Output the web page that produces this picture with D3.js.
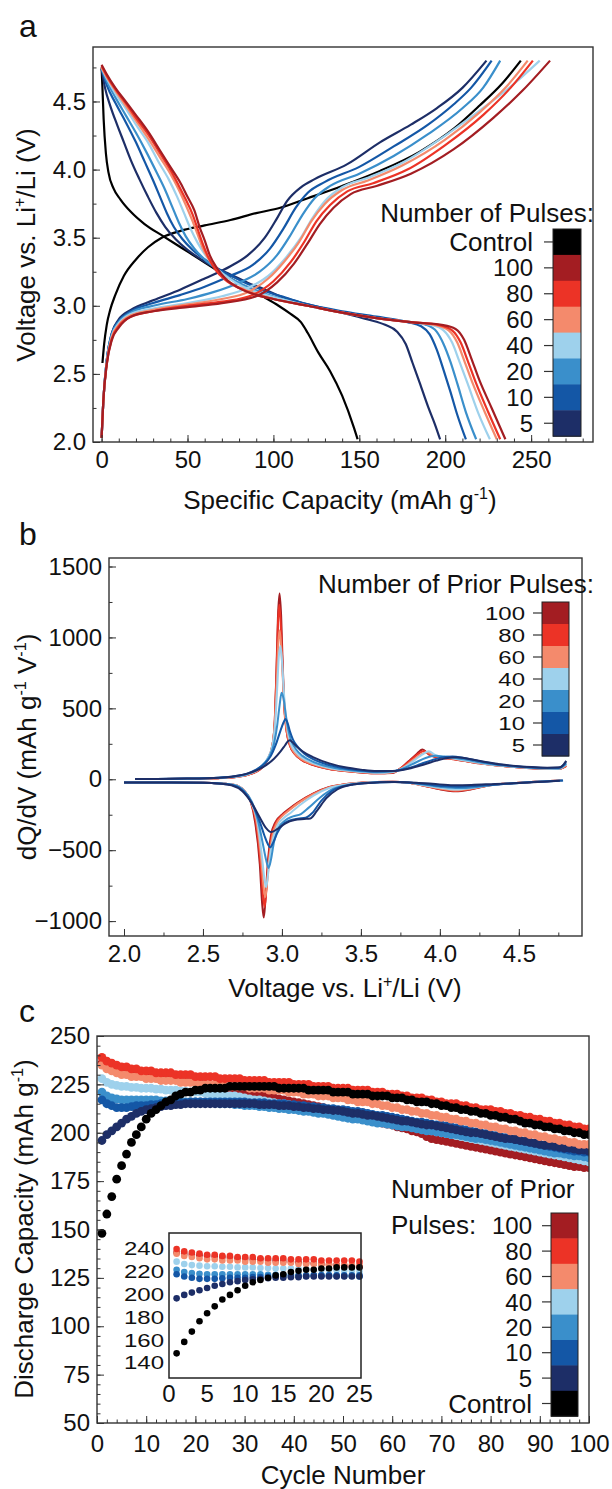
<!DOCTYPE html>
<html><head><meta charset="utf-8">
<script src="https://cdn.jsdelivr.net/npm/d3@7"></script>
<style>
body{margin:0;background:#fff}
svg{display:block}
text{font-family:"Liberation Sans",Arial,sans-serif;fill:#111}
</style>
</head><body>
<svg id="fig" width="612" height="1489"></svg>
<script>
// ---------- series identity ----------
const seriesNames = ["Control","100","80","60","40","20","10","5"];
const seriesColors = ["#000000","#a31d22","#ec3326","#f48a6c","#9ed1ec","#3a8fcb","#1457a6","#1d2e67"];
const colorOf = {}; seriesNames.forEach((n,i)=>colorOf[n]=seriesColors[i]);

// ---------- panel a : voltage profiles [capacity mAh/g, voltage V] ----------
const aXTicks = [0,50,100,150,200,250];
const aYTicks = [2.0,2.5,3.0,3.5,4.0,4.5];
const aChargeControl = [[0.5,2.58],[1.5,2.72],[3,2.86],[5,2.97],[8,3.08],[13,3.22],[20,3.34],[27,3.43],[35,3.5],[46,3.55],[60,3.59],[75,3.63],[90,3.68],[104,3.72],[120,3.79],[140,3.88],[162,3.99],[185,4.13],[205,4.3],[220,4.47],[233,4.63],[244,4.8]];
const aCharge100 = [[0,2.03],[1,2.3],[3,2.57],[6,2.75],[10,2.84],[17,2.92],[30,2.96],[50,2.99],[70,3.02],[90,3.07],[102,3.17],[112,3.31],[120,3.46],[127,3.6],[135,3.72],[145,3.82],[160,3.88],[180,3.97],[205,4.15],[228,4.38],[245,4.58],[261,4.8]];
const aCharge80 = [[0,2.03],[1,2.3],[3,2.57],[6,2.76],[10,2.85],[17,2.92],[30,2.96],[50,3.0],[70,3.03],[88,3.08],[100,3.18],[110,3.32],[118,3.47],[125,3.62],[133,3.74],[143,3.84],[158,3.9],[178,4.0],[200,4.18],[222,4.4],[238,4.6],[251,4.8]];
const aCharge60 = [[0,2.03],[1,2.3],[3,2.58],[6,2.77],[10,2.86],[17,2.93],[30,2.97],[50,3.01],[70,3.05],[85,3.1],[97,3.2],[106,3.32],[115,3.47],[122,3.62],[130,3.75],[140,3.85],[155,3.92],[175,4.03],[200,4.22],[220,4.42],[235,4.6],[248,4.8]];
const aCharge40 = [[0,2.03],[1,2.3],[3,2.58],[6,2.78],[10,2.87],[17,2.94],[30,2.98],[50,3.02],[70,3.07],[85,3.13],[97,3.22],[107,3.35],[116,3.5],[123,3.65],[130,3.77],[140,3.87],[155,3.94],[175,4.05],[200,4.25],[225,4.48],[240,4.63],[255,4.8]];
const aCharge20 = [[0,2.03],[1,2.3],[3,2.6],[6,2.79],[10,2.88],[17,2.95],[30,3.0],[50,3.05],[65,3.1],[80,3.17],[92,3.25],[102,3.37],[110,3.52],[117,3.67],[124,3.79],[133,3.88],[150,3.97],[170,4.1],[190,4.26],[210,4.45],[222,4.6],[232,4.8]];
const aCharge10 = [[0,2.03],[1,2.3],[3,2.6],[6,2.8],[10,2.89],[17,2.96],[30,3.02],[46,3.08],[60,3.14],[75,3.22],[88,3.3],[98,3.42],[106,3.57],[113,3.72],[120,3.83],[130,3.91],[150,4.02],[170,4.17],[190,4.33],[205,4.48],[215,4.6],[227,4.8]];
const aCharge5 = [[0,2.03],[1,2.3],[3,2.6],[6,2.8],[10,2.9],[17,2.97],[30,3.04],[46,3.12],[60,3.2],[75,3.29],[85,3.37],[95,3.5],[102,3.64],[108,3.77],[116,3.87],[124,3.93],[143,4.04],[162,4.2],[180,4.33],[195,4.45],[210,4.6],[224,4.8]];
const aDischargeControl = [[0,4.75],[0.5,4.6],[1.2,4.37],[2.5,4.12],[4,3.98],[7,3.86],[11,3.78],[17,3.69],[25,3.6],[36,3.51],[46,3.43],[56,3.35],[66,3.27],[75,3.2],[85,3.13],[95,3.06],[103,3.0],[110,2.94],[116,2.88],[120,2.8],[126,2.66],[133,2.52],[140,2.34],[147,2.1],[149,2.02]];
const aDischarge100 = [[0,4.77],[3,4.7],[8,4.6],[14,4.5],[20,4.4],[27,4.28],[34,4.14],[40,4.02],[46,3.9],[50,3.8],[54,3.7],[57,3.58],[60,3.48],[63,3.37],[67,3.28],[72,3.2],[80,3.13],[90,3.08],[100,3.05],[120,3.0],[140,2.95],[160,2.91],[180,2.88],[198,2.86],[206,2.83],[211,2.75],[215,2.62],[220,2.45],[227,2.25],[235,2.02]];
const aDischarge80 = [[0,4.76],[3,4.69],[8,4.59],[14,4.49],[20,4.38],[27,4.26],[34,4.12],[40,4.0],[45,3.88],[49,3.78],[53,3.67],[56,3.56],[59,3.45],[62,3.36],[66,3.27],[72,3.19],[80,3.13],[90,3.08],[100,3.05],[120,3.0],[140,2.95],[160,2.91],[180,2.88],[196,2.86],[204,2.82],[209,2.73],[213,2.6],[218,2.43],[225,2.22],[232,2.02]];
const aDischarge60 = [[0,4.75],[3,4.68],[8,4.58],[14,4.47],[20,4.36],[27,4.23],[34,4.09],[40,3.97],[45,3.85],[49,3.74],[53,3.62],[56,3.52],[59,3.42],[63,3.33],[68,3.25],[75,3.17],[83,3.12],[92,3.08],[100,3.05],[120,3.0],[140,2.95],[160,2.91],[180,2.88],[194,2.86],[202,2.82],[207,2.73],[211,2.6],[216,2.43],[223,2.22],[230,2.02]];
const aDischarge40 = [[0,4.75],[3,4.67],[8,4.56],[14,4.45],[20,4.33],[27,4.2],[33,4.06],[39,3.93],[44,3.8],[48,3.68],[52,3.56],[56,3.46],[60,3.38],[65,3.3],[71,3.23],[78,3.17],[86,3.12],[95,3.08],[104,3.05],[120,3.0],[140,2.95],[160,2.91],[180,2.88],[192,2.86],[199,2.82],[204,2.73],[208,2.6],[213,2.43],[219,2.22],[226,2.02]];
const aDischarge20 = [[0,4.74],[3,4.65],[8,4.53],[14,4.4],[20,4.27],[26,4.13],[32,3.98],[37,3.85],[41,3.73],[45,3.61],[49,3.51],[54,3.42],[60,3.34],[67,3.27],[75,3.2],[85,3.14],[95,3.09],[105,3.05],[120,3.0],[140,2.95],[160,2.91],[180,2.88],[189,2.86],[195,2.81],[199,2.72],[203,2.59],[207,2.43],[212,2.22],[218,2.02]];
const aDischarge10 = [[0,4.74],[3,4.62],[8,4.49],[14,4.35],[20,4.2],[25,4.06],[30,3.92],[34,3.8],[38,3.68],[42,3.58],[47,3.49],[53,3.41],[60,3.34],[68,3.27],[77,3.21],[87,3.15],[97,3.1],[107,3.06],[120,3.01],[140,2.96],[160,2.92],[178,2.88],[186,2.85],[191,2.79],[195,2.68],[199,2.53],[203,2.37],[207,2.2],[212,2.02]];
const aDischarge5 = [[0,4.74],[2,4.6],[5,4.47],[9,4.33],[13,4.2],[17,4.07],[22,3.93],[27,3.8],[32,3.68],[37,3.58],[43,3.49],[50,3.41],[58,3.34],[66,3.28],[75,3.23],[85,3.17],[95,3.12],[104,3.07],[120,3.01],[140,2.95],[155,2.9],[165,2.86],[172,2.81],[177,2.72],[181,2.58],[185,2.44],[190,2.26],[194,2.13],[197,2.02]];

// ---------- panel b : dQ/dV [voltage V, dQ/dV] ----------
const bXTicks = [2.0,2.5,3.0,3.5,4.0,4.5];
const bYTicks = [-1000,-500,0,500,1000,1500];
const bNames = ["100","80","60","40","20","10","5"];
const bCharge100 = [[2.07,2],[2.4,4],[2.6,8],[2.7,15],[2.78,30],[2.84,55],[2.88,90],[2.91,140],[2.94,240],[2.955,420],[2.965,750],[2.975,1150],[2.985,1310],[2.995,1150],[3.005,800],[3.015,520],[3.03,340],[3.05,240],[3.08,180],[3.12,140],[3.2,100],[3.3,72],[3.4,58],[3.5,48],[3.6,42],[3.7,45],[3.75,75],[3.8,125],[3.85,175],[3.89,210],[3.93,175],[3.98,155],[4.05,148],[4.15,130],[4.25,112],[4.35,98],[4.45,88],[4.55,80],[4.65,74],[4.75,72],[4.8,95]];
const bCharge80 = [[2.07,2],[2.4,4],[2.6,8],[2.7,15],[2.78,30],[2.84,55],[2.88,90],[2.91,140],[2.94,240],[2.955,420],[2.965,720],[2.975,1100],[2.983,1230],[2.993,1080],[3.005,760],[3.015,500],[3.03,335],[3.05,240],[3.08,180],[3.12,140],[3.2,100],[3.3,72],[3.4,58],[3.5,48],[3.6,42],[3.7,48],[3.76,85],[3.82,140],[3.87,185],[3.9,200],[3.94,170],[3.99,152],[4.05,146],[4.15,130],[4.25,112],[4.35,98],[4.45,88],[4.55,80],[4.65,74],[4.75,72],[4.8,92]];
const bCharge60 = [[2.07,2],[2.4,4],[2.6,8],[2.7,16],[2.78,32],[2.84,58],[2.88,95],[2.91,145],[2.94,240],[2.955,400],[2.967,680],[2.977,960],[2.986,1050],[2.996,920],[3.007,680],[3.018,470],[3.035,320],[3.055,235],[3.08,185],[3.12,145],[3.2,105],[3.3,75],[3.4,60],[3.5,50],[3.6,44],[3.7,50],[3.77,85],[3.83,135],[3.88,175],[3.92,190],[3.96,168],[4.01,152],[4.07,146],[4.15,132],[4.25,114],[4.35,99],[4.45,89],[4.55,81],[4.65,75],[4.75,73],[4.8,100]];
const bCharge40 = [[2.07,2],[2.4,4],[2.6,9],[2.7,17],[2.78,34],[2.84,62],[2.88,100],[2.91,150],[2.94,240],[2.957,390],[2.97,640],[2.98,860],[2.99,940],[3.0,840],[3.012,620],[3.025,440],[3.04,320],[3.06,240],[3.09,190],[3.13,150],[3.2,112],[3.3,80],[3.4,63],[3.5,52],[3.6,46],[3.7,52],[3.78,88],[3.84,135],[3.89,175],[3.93,198],[3.97,172],[4.02,156],[4.08,148],[4.15,134],[4.25,116],[4.35,100],[4.45,90],[4.55,82],[4.65,76],[4.75,74],[4.8,105]];
const bCharge20 = [[2.07,2],[2.4,5],[2.6,10],[2.7,19],[2.78,37],[2.84,66],[2.88,105],[2.92,160],[2.95,250],[2.97,380],[2.985,520],[2.998,610],[3.01,570],[3.025,450],[3.04,350],[3.06,270],[3.09,210],[3.13,165],[3.2,122],[3.3,88],[3.4,68],[3.5,56],[3.6,50],[3.7,56],[3.78,82],[3.85,120],[3.91,150],[3.97,165],[4.03,160],[4.1,150],[4.18,135],[4.27,117],[4.37,101],[4.47,90],[4.57,82],[4.67,77],[4.75,76],[4.8,110]];
const bCharge10 = [[2.07,2],[2.4,5],[2.6,11],[2.7,21],[2.78,40],[2.84,70],[2.89,110],[2.93,165],[2.96,240],[2.99,340],[3.01,400],[3.022,425],[3.035,400],[3.05,340],[3.07,280],[3.1,228],[3.14,182],[3.2,140],[3.3,100],[3.4,76],[3.5,62],[3.6,55],[3.7,58],[3.8,78],[3.88,108],[3.95,135],[4.02,155],[4.08,160],[4.15,150],[4.25,128],[4.35,108],[4.45,95],[4.55,86],[4.65,80],[4.75,80],[4.8,120]];
const bCharge5 = [[2.07,2],[2.4,5],[2.6,11],[2.7,22],[2.78,40],[2.85,68],[2.9,100],[2.95,145],[2.99,195],[3.02,240],[3.04,270],[3.05,275],[3.065,262],[3.09,235],[3.13,198],[3.2,155],[3.3,112],[3.4,84],[3.5,68],[3.6,58],[3.7,58],[3.8,74],[3.9,104],[3.98,132],[4.05,150],[4.1,155],[4.18,145],[4.28,124],[4.38,106],[4.48,94],[4.58,86],[4.68,82],[4.76,84],[4.8,130]];
const bDischarge100 = [[2.0,-22],[2.3,-22],[2.5,-24],[2.6,-28],[2.7,-40],[2.76,-80],[2.8,-150],[2.83,-300],[2.86,-600],[2.875,-880],[2.885,-975],[2.895,-860],[2.91,-600],[2.93,-400],[2.96,-300],[3.0,-250],[3.05,-205],[3.1,-165],[3.2,-100],[3.3,-55],[3.4,-35],[3.5,-25],[3.6,-20],[3.7,-18],[3.8,-25],[3.9,-45],[4.0,-70],[4.1,-85],[4.2,-70],[4.3,-45],[4.4,-32],[4.5,-25],[4.6,-18],[4.7,-12],[4.77,-8]];
const bDischarge80 = [[2.0,-22],[2.3,-22],[2.5,-24],[2.6,-28],[2.7,-40],[2.76,-80],[2.8,-150],[2.835,-300],[2.865,-600],[2.88,-820],[2.89,-900],[2.9,-800],[2.915,-580],[2.935,-400],[2.965,-300],[3.0,-255],[3.05,-210],[3.1,-168],[3.2,-102],[3.3,-56],[3.4,-35],[3.5,-25],[3.6,-20],[3.7,-18],[3.8,-25],[3.9,-45],[4.0,-68],[4.1,-82],[4.2,-68],[4.3,-45],[4.4,-32],[4.5,-25],[4.6,-18],[4.7,-12],[4.77,-8]];
const bDischarge60 = [[2.0,-22],[2.3,-22],[2.5,-24],[2.6,-28],[2.7,-40],[2.76,-80],[2.8,-150],[2.84,-300],[2.87,-580],[2.885,-770],[2.895,-830],[2.905,-740],[2.92,-560],[2.94,-400],[2.97,-305],[3.0,-262],[3.05,-215],[3.1,-172],[3.2,-105],[3.3,-58],[3.4,-36],[3.5,-25],[3.6,-20],[3.7,-18],[3.8,-25],[3.9,-44],[4.0,-65],[4.1,-78],[4.2,-66],[4.3,-45],[4.4,-32],[4.5,-25],[4.6,-18],[4.7,-12],[4.77,-8]];
const bDischarge40 = [[2.0,-22],[2.3,-22],[2.5,-24],[2.6,-28],[2.7,-40],[2.76,-80],[2.8,-150],[2.845,-300],[2.875,-560],[2.89,-710],[2.9,-760],[2.91,-690],[2.925,-540],[2.945,-410],[2.975,-320],[3.01,-275],[3.06,-232],[3.11,-185],[3.2,-115],[3.3,-62],[3.4,-38],[3.5,-26],[3.6,-20],[3.7,-18],[3.8,-25],[3.9,-42],[4.0,-60],[4.1,-72],[4.2,-62],[4.3,-44],[4.4,-32],[4.5,-25],[4.6,-18],[4.7,-12],[4.77,-8]];
const bDischarge20 = [[2.0,-22],[2.3,-22],[2.5,-24],[2.6,-29],[2.7,-42],[2.76,-82],[2.81,-160],[2.85,-300],[2.88,-460],[2.9,-570],[2.915,-625],[2.93,-570],[2.95,-440],[2.98,-340],[3.02,-290],[3.07,-262],[3.12,-245],[3.17,-200],[3.24,-130],[3.32,-70],[3.42,-40],[3.52,-27],[3.62,-21],[3.72,-19],[3.82,-25],[3.92,-40],[4.02,-55],[4.12,-62],[4.22,-56],[4.32,-42],[4.42,-32],[4.52,-25],[4.62,-18],[4.72,-12],[4.78,-8]];
const bDischarge10 = [[2.0,-22],[2.3,-22],[2.5,-24],[2.6,-30],[2.7,-45],[2.76,-88],[2.81,-170],[2.86,-300],[2.89,-400],[2.91,-455],[2.925,-480],[2.945,-445],[2.97,-380],[3.0,-325],[3.05,-290],[3.1,-278],[3.15,-272],[3.19,-240],[3.25,-150],[3.32,-80],[3.42,-42],[3.52,-28],[3.62,-21],[3.72,-19],[3.82,-24],[3.92,-36],[4.02,-48],[4.12,-52],[4.22,-48],[4.32,-40],[4.42,-32],[4.52,-25],[4.62,-18],[4.72,-12],[4.78,-8]];
const bDischarge5 = [[2.0,-22],[2.3,-22],[2.5,-24],[2.6,-30],[2.68,-42],[2.75,-85],[2.81,-170],[2.86,-270],[2.9,-345],[2.93,-372],[2.97,-352],[3.02,-312],[3.08,-287],[3.14,-280],[3.18,-276],[3.22,-225],[3.28,-135],[3.35,-72],[3.45,-37],[3.55,-26],[3.7,-20],[3.85,-24],[4.0,-36],[4.1,-42],[4.2,-40],[4.35,-33],[4.5,-27],[4.65,-18],[4.76,-10]];

// ---------- panel c : discharge capacity per cycle (cycles 1..100) ----------
const cXTicks = [0,10,20,30,40,50,60,70,80,90,100];
const cYTicks = [50,75,100,125,150,175,200,225,250];
const insetXTicks = [0,5,10,15,20,25];
const insetYTicks = [140,160,180,200,220,240];
const cCycles = d3.range(1,101);
const cControl = [148,158,167,176,183,189,195,199,203,207,210,212,214,216,217,219,220,221,221,222,222,223,223,223,223,
223,224,224,224,224,224,224,224,224,224,224,223,223,223,223,223,223,222,222,222,222,222,221,221,221,
221,220,220,220,220,219,219,219,219,218,218,218,217,217,216,216,216,215,215,214,214,213,213,212,212,
211,211,210,210,209,209,208,208,207,207,206,205,205,204,204,203,203,202,202,201,201,200,200,199,199];
const c80 = [239,237,236,235,234,234,233,233,232,232,232,231,231,231,231,230,230,230,230,229,
229,229,229,229,228,228,228,228,228,227,227,227,227,227,226,226,226,226,226,225,
225,225,225,224,224,224,224,223,223,223,223,222,222,222,222,221,221,221,220,220,
220,219,219,218,218,218,217,217,216,216,215,215,215,214,214,213,213,212,212,212,
211,211,210,210,209,209,208,208,207,207,206,206,205,205,204,204,203,203,202,202];
const c60 = [235,233,232,231,230,230,229,229,229,228,228,228,227,227,227,227,226,226,226,226,
225,225,225,225,225,224,224,224,224,224,223,223,223,223,222,222,222,222,221,221,
221,220,220,220,219,219,219,218,218,218,217,217,216,216,216,215,215,214,214,213,
213,212,212,211,211,210,210,209,209,208,208,207,207,206,206,205,205,204,204,203,
203,202,202,201,201,200,200,199,199,198,198,197,197,196,196,195,195,194,194,194];
const c40 = [228,226,225,224.5,224,224,223.5,223.5,223,223,223,222.5,222.5,222,222,222,221.5,221.5,221,221,
221,220.5,220,220,219.5,219.5,219,219,218.5,218,217.5,217,217,216.5,216,215.5,215,215,214.5,214,
213.5,213,212.5,212,212,211.5,211,210.5,210,210,209.5,209,208.5,208,207.5,207,206.5,206,205.5,205,
204.5,204,203.5,203,202.5,202,201.5,201,200.5,200,199.5,199,198.5,198,197.5,197,196.5,196,195.5,195,
194.5,194,193.5,193,192.5,192,191.5,191,190.5,190,189.5,189,188.5,188,187.5,187,186.5,186,185.5,185];
const c20 = [221,219,218,217.5,217,217,217,217,217,217,217,217,216.5,216.5,216.5,216.5,216,216,216,216,
216,215.5,215.5,215.5,215,215,215,214.5,214.5,214,214,214,213.5,213.5,213,213,212.5,212.5,212,212,
211.5,211,211,210.5,210,210,209.5,209,208.5,208,207.5,207,207,206.5,206,205.5,205,205,204.5,204,
203.5,203,203,202.5,202,201.5,201,201,200.5,200,199.5,199,199,198.5,198,197.5,197,197,196.5,196,
195.5,195,194.5,194,193.5,193,192.5,192,191.5,191,190.5,190,189.5,189.5,189,188.5,188,188,187.5,187];
const c10 = [217,215,214,213,213,213,213.5,214,214,214,214.5,214.5,215,215,215,215.5,215.5,215.5,216,216,
216,216,216,216,216,216,216,216,216,216,215.5,215.5,215.5,215.5,215,215,215,215,214.5,214.5,
214,214,213.5,213.5,213,213,212.5,212.5,212,212,211.5,211,211,210.5,210,209.5,209,209,208.5,208,
207.5,207,206.5,206,205.5,205.5,205,204.5,204,204,203.5,203,202.5,202,201.5,201,200.5,200,199.5,199,
198.5,198,197.5,197,196.5,196,195.5,195,194.5,194,193.5,193,192.5,192,191.5,191,190.5,190.5,190,190];
const c5 = [196,199,201,203,205,207,208.5,210,211,212,212.5,213,213.5,214,214,214.5,214.5,215,215,215,
215,215,215,215,215,215,215,215,215,215,215,215,214.5,214.5,214.5,214.5,214,214,214,213.5,
213.5,213,213,212.5,212.5,212,212,211.5,211.5,211,210.5,210,210,209.5,209,209,208.5,208,207.5,207,
206.5,206,206,205.5,205,204.5,204,204,203.5,203,202.5,202,201.5,201,200.5,200,200,199.5,199,198.5,
198,197.5,197,197,196.5,196,195.5,195,194.5,194,193.5,193.5,193,192.5,192,192,191.5,191,191,190.5];
const c100 = [236,235,234,233.5,233,232.5,232,231.5,231,230.5,230,230,229.5,229,228.5,228,227.5,227,226.5,226,
225.5,225,224.5,224,223.5,223,222.5,222,221.5,221,220.5,220,219.5,219,218.5,218,217.5,217,216.5,216,
215.5,215,214.5,214,213.5,213,212,211.5,211,210.5,210,209,208.5,208,207,206.5,206,205,204.5,204,
203,202.5,202,201,200.5,199.5,198,197,196.5,196,195.5,195,194.5,194,193.5,193,192.5,192,191.5,191,
190.5,190,189.5,189,188.5,188,187.5,187,186.5,186,185.5,185,184.5,184,183.5,183,182.5,182.5,182,182];

// ---------- drawing ----------
const svg = d3.select("#fig");
const FONT = 24;      // numbers
const TFONT = 26;     // words
const frameColor = "#333";

function drawAxes(g, x, y, xMaj, yMaj, xMin, yMin, xFmt, yFmt, xPad) {
  const [x0,x1] = x.range(), [y0,y1] = y.range();
  g.append("g").attr("transform",`translate(0,${y0})`)
    .call(d3.axisBottom(x).tickValues(xMin).tickSize(-3.5).tickFormat(""))
    .call(s=>s.select(".domain").remove()).selectAll("line").attr("stroke",frameColor);
  g.append("g").attr("transform",`translate(${x0},0)`)
    .call(d3.axisLeft(y).tickValues(yMin).tickSize(-3.5).tickFormat(""))
    .call(s=>s.select(".domain").remove()).selectAll("line").attr("stroke",frameColor);
  const gx = g.append("g").attr("transform",`translate(0,${y0})`)
    .call(d3.axisBottom(x).tickValues(xMaj).tickSize(-7).tickPadding(xPad||8).tickFormat(xFmt))
    .call(s=>s.select(".domain").remove());
  gx.selectAll("line").attr("stroke",frameColor);
  gx.selectAll("text").attr("font-size",FONT).attr("font-family","Liberation Sans, Arial, sans-serif").attr("fill","#111");
  const gy = g.append("g").attr("transform",`translate(${x0},0)`)
    .call(d3.axisLeft(y).tickValues(yMaj).tickSize(-7).tickPadding(7).tickFormat(yFmt))
    .call(s=>s.select(".domain").remove());
  gy.selectAll("line").attr("stroke",frameColor);
  gy.selectAll("text").attr("font-size",FONT).attr("font-family","Liberation Sans, Arial, sans-serif").attr("fill","#111");
  g.append("rect").attr("x",x0).attr("y",y1).attr("width",x1-x0).attr("height",y0-y1)
    .attr("fill","none").attr("stroke",frameColor).attr("stroke-width",1.4);
}

function colorbar(g, names, x0, y0, w, segH, labelX, squeeze) {
  names.forEach((n,i)=>{
    const cy = y0+(i+0.5)*segH;
    g.append("rect").attr("x",x0).attr("y",y0+i*segH).attr("width",w).attr("height",segH+0.5).attr("fill",colorOf[n]);
    g.append("line").attr("x1",x0-9).attr("x2",x0).attr("y1",cy).attr("y2",cy)
      .attr("stroke","#333").attr("stroke-width",1.2);
    const fs = isNaN(+n) ? TFONT : FONT;
    g.append("text").attr("transform",`translate(${labelX},${cy}) scale(1,${squeeze||1})`).attr("dy","0.36em")
      .attr("text-anchor","end").attr("font-size",fs).text(n);
  });
  g.append("rect").attr("x",x0).attr("y",y0).attr("width",w).attr("height",segH*names.length)
    .attr("fill","none").attr("stroke","#222").attr("stroke-width",1);
}

// parts: strings are normal text, {sup:"..."} is superscript
function richText(g, x, y, parts, rotate, anchor) {
  const t = g.append("text").attr("x",x).attr("y",y).attr("font-size",TFONT).attr("text-anchor",anchor||"middle");
  if (rotate) t.attr("transform",`rotate(-90,${x},${y})`);
  let off = 0;
  parts.forEach(p=>{
    if (typeof p === "string") {
      t.append("tspan").attr("dy",-off).text(p); off = 0;
    } else {
      const target = -TFONT*0.4;
      t.append("tspan").attr("font-size",TFONT*0.62).attr("dy",target-off).text(p.sup); off = target;
    }
  });
  return t;
}

// ===== Panel a =====
{
  const g = svg.append("g");
  const x = d3.scaleLinear().domain([-5,286]).range([93,593]);
  const y = d3.scaleLinear().domain([2.0,4.9]).range([442,47]);
  const line = d3.line().x(d=>x(d[0])).y(d=>y(d[1])).curve(d3.curveMonotoneX);
  const charge = {"Control":aChargeControl,"100":aCharge100,"80":aCharge80,"60":aCharge60,"40":aCharge40,"20":aCharge20,"10":aCharge10,"5":aCharge5};
  const discharge = {"Control":aDischargeControl,"100":aDischarge100,"80":aDischarge80,"60":aDischarge60,"40":aDischarge40,"20":aDischarge20,"10":aDischarge10,"5":aDischarge5};
  const order = ["Control","5","10","20","40","60","80","100"];
  order.forEach(n=>{
    [charge[n],discharge[n]].forEach(arr=>{
      g.append("path").datum(arr).attr("d",line).attr("fill","none")
        .attr("stroke",colorOf[n]).attr("stroke-width",2.2).attr("stroke-linejoin","round");
    });
  });
  drawAxes(g,x,y,aXTicks,aYTicks,d3.range(0,281,10),d3.range(2.0,4.8,0.25),d3.format("d"),d3.format(".1f"),9);
  g.append("text").attr("x",594).attr("y",222).attr("text-anchor","end").attr("font-size",TFONT).text("Number of Pulses:");
  colorbar(g,seriesNames,553,229,28,25.9,533,1);
  richText(g,340,509,["Specific Capacity (mAh g",{sup:"-1"},")"],false);
  richText(g,35,245,["Voltage vs. Li",{sup:"+"},"/Li (V)"],true);
  g.append("text").attr("x",19).attr("y",37).attr("font-size",32).text("a");
}

// ===== Panel b =====
{
  const g = svg.append("g");
  const x = d3.scaleLinear().domain([1.905,4.9]).range([109,582]);
  const y = d3.scaleLinear().domain([-1105,1560]).range([936,558]);
  const line = d3.line().x(d=>x(d[0])).y(d=>y(d[1])).curve(d3.curveMonotoneX);
  const charge = {"100":bCharge100,"80":bCharge80,"60":bCharge60,"40":bCharge40,"20":bCharge20,"10":bCharge10,"5":bCharge5};
  const discharge = {"100":bDischarge100,"80":bDischarge80,"60":bDischarge60,"40":bDischarge40,"20":bDischarge20,"10":bDischarge10,"5":bDischarge5};
  bNames.forEach(n=>{
    [charge[n],discharge[n]].forEach(arr=>{
      g.append("path").datum(arr).attr("d",line).attr("fill","none")
        .attr("stroke",colorOf[n]).attr("stroke-width",2).attr("stroke-linejoin","round");
    });
  });
  drawAxes(g,x,y,bXTicks,bYTicks,d3.range(2.0,4.9,0.25),d3.range(-1000,1560,250),d3.format(".1f"),d3.format("d"),9);
  g.append("text").attr("x",594).attr("y",593).attr("text-anchor","end").attr("font-size",TFONT).text("Number of Prior Pulses:");
  colorbar(g,bNames,542,602,27,22,525,0.78);
  richText(g,345,997,["Voltage vs. Li",{sup:"+"},"/Li (V)"],false);
  richText(g,36,747,["dQ/dV (mAh g",{sup:"-1"}," V",{sup:"-1"},")"],true);
  g.append("text").attr("x",19).attr("y",545).attr("font-size",32).text("b");
}

// ===== Panel c =====
{
  const g = svg.append("g");
  const x = d3.scaleLinear().domain([0,100]).range([97,589]);
  const y = d3.scaleLinear().domain([50,250]).range([1423,1036]);
  const data = {"Control":cControl,"100":c100,"80":c80,"60":c60,"40":c40,"20":c20,"10":c10,"5":c5};
  const order = ["100","40","20","10","5","60","80","Control"];
  g.append("clipPath").attr("id","clipc").append("rect").attr("x",97).attr("y",1036).attr("width",492).attr("height",387);
  const dots = g.append("g").attr("clip-path","url(#clipc)");
  order.forEach(n=>{
    dots.append("g").selectAll("circle").data(data[n]).join("circle")
      .attr("cx",(d,i)=>x(cCycles[i])).attr("cy",d=>y(d)).attr("r",4.4).attr("fill",colorOf[n]);
  });
  drawAxes(g,x,y,cXTicks,cYTicks,d3.range(0,101,2),d3.range(50,251,5),d3.format("d"),d3.format("d"),12);
  // inset
  const xi = d3.scaleLinear().domain([0,25.2]).range([169,361]);
  const yi = d3.scaleLinear().domain([126.5,253]).range([1378,1233]);
  g.append("rect").attr("x",169).attr("y",1233).attr("width",192).attr("height",145).attr("fill","#fff");
  const ig = g.append("g");
  order.forEach(n=>{
    ig.append("g").selectAll("circle").data(data[n].slice(0,25)).join("circle")
      .attr("cx",(d,i)=>xi(cCycles[i])).attr("cy",d=>yi(d)).attr("r",3.3).attr("fill",colorOf[n]);
  });
  g.append("rect").attr("x",169).attr("y",1233).attr("width",192).attr("height",145)
    .attr("fill","none").attr("stroke","#222").attr("stroke-width",1.5);
  insetYTicks.forEach(v=>g.append("text").attr("transform",`translate(164,${yi(v)}) scale(1,0.8)`).attr("dy","0.36em")
    .attr("text-anchor","end").attr("font-size",FONT).text(v));
  insetXTicks.forEach(v=>g.append("text").attr("x",xi(v)).attr("y",1402)
    .attr("text-anchor","middle").attr("font-size",FONT).text(v));
  // legend
  g.append("text").attr("x",391).attr("y",1198).attr("font-size",TFONT).text("Number of Prior");
  g.append("text").attr("x",391).attr("y",1234).attr("font-size",TFONT).text("Pulses:");
  colorbar(g,["100","80","60","40","20","10","5","Control"],551,1213,27,25.4,532,1);
  g.append("text").attr("x",343).attr("y",1484).attr("text-anchor","middle").attr("font-size",TFONT).text("Cycle Number");
  richText(g,33,1229,["Discharge Capacity (mAh g",{sup:"-1"},")"],true);
  g.append("text").attr("x",19).attr("y",1022).attr("font-size",32).text("c");
}
</script>
</body></html>
